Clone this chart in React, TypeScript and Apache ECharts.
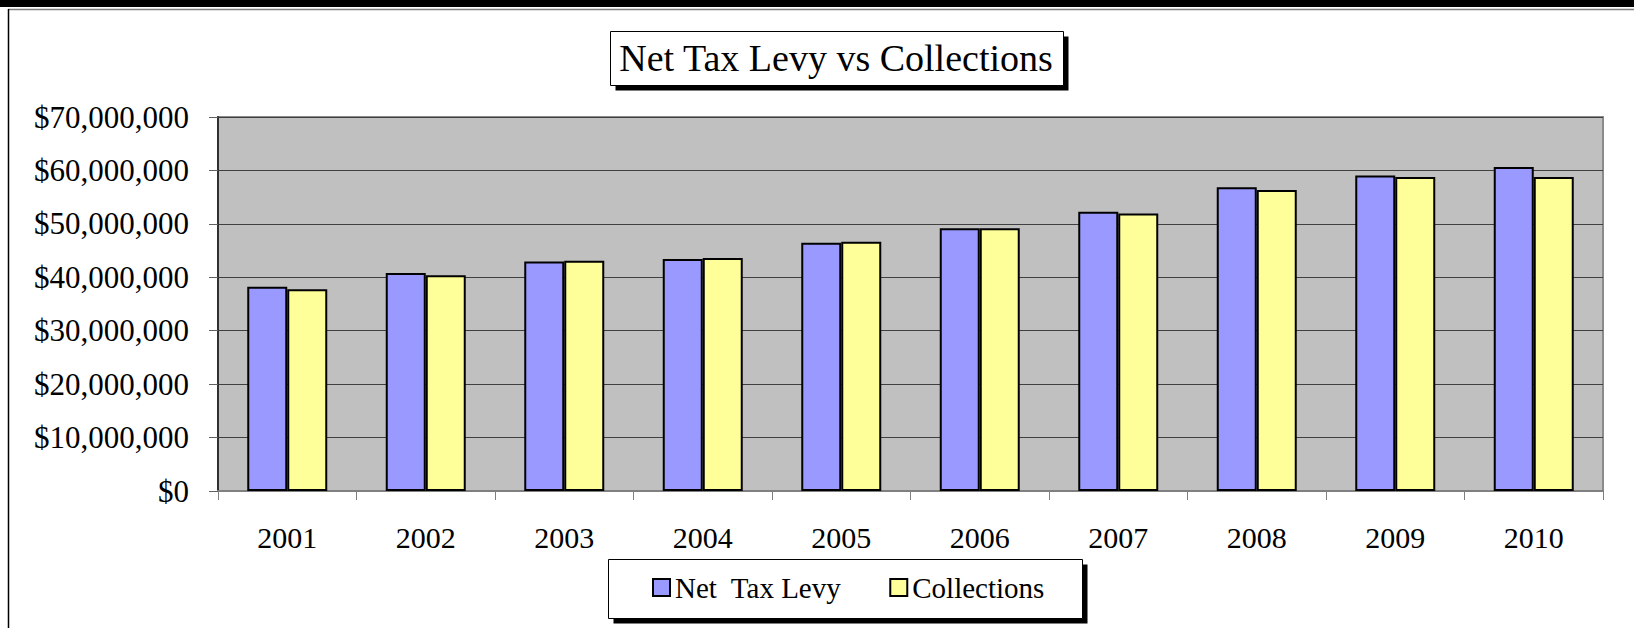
import React, { useEffect, useRef } from "react";
import * as echarts from "echarts";

const years = ["2001", "2002", "2003", "2004", "2005", "2006", "2007", "2008", "2009", "2010"];
const netTaxLevy = [38250000, 40800000, 42950000, 43400000, 46450000, 49200000, 52250000, 56850000, 59050000, 60650000];
const collections = [37750000, 40400000, 43100000, 43600000, 46650000, 49200000, 51950000, 56350000, 58750000, 58750000];
const seriesNames = ["Net  Tax Levy", "Collections"];
const titleText = "Net Tax Levy vs Collections";

const FONT = "'Liberation Serif', 'Times New Roman', serif";

export default function App() {
  const ref = useRef<HTMLDivElement>(null);
  useEffect(() => {
    document.body.style.margin = "0";
    if (!ref.current) return;
    const chart = echarts.init(ref.current, null, { renderer: "svg" });
    const fmt = (v: number) => "$" + Math.round(v).toString().replace(/\B(?=(\d{3})+(?!\d))/g, ",");
    chart.setOption({
      animation: false,
      backgroundColor: "#ffffff",
      title: {
        text: titleText,
        left: 836,
        top: 39,
        padding: 0,
        textAlign: "center",
        textStyle: { fontFamily: FONT, fontSize: 38, fontWeight: "normal", color: "#000" },
        z: 10,
      },
      legend: {
        left: 652,
        top: 573,
        padding: 0,
        itemWidth: 17,
        itemHeight: 17,
        itemGap: 48,
        icon: "rect",
        textStyle: { fontFamily: FONT, fontSize: 29, color: "#000" },
        data: seriesNames,
        z: 10,
      },
      grid: {
        left: 218,
        right: 31,
        top: 117,
        bottom: 137,
        show: true,
        backgroundColor: "#C0C0C0",
        borderColor: "#8a8a8a",
        borderWidth: 2,
      },
      xAxis: {
        type: "category",
        data: years,
        boundaryGap: true,
        axisLine: { show: true, lineStyle: { color: "#808080", width: 2 } },
        axisTick: { show: true, length: 9, interval: 0, lineStyle: { color: "#808080" } },
        axisLabel: { fontFamily: FONT, fontSize: 30, color: "#000", margin: 31, interval: 0 },
        splitLine: { show: false },
      },
      yAxis: {
        type: "value",
        min: 0,
        max: 70000000,
        interval: 10000000,
        axisLine: { show: true, lineStyle: { color: "#303030", width: 2 } },
        axisTick: { show: true, length: 9, lineStyle: { color: "#606060" } },
        axisLabel: { fontFamily: FONT, fontSize: 31, color: "#000", margin: 29, formatter: fmt },
        splitLine: { show: true, lineStyle: { color: "#404040", width: 1 } },
      },
      graphic: [
        { type: "rect", shape: { x: 0, y: 0, width: 1634, height: 7 }, style: { fill: "#000" }, silent: true },
        { type: "line", shape: { x1: 8, y1: 9.5, x2: 1634, y2: 9.5 }, style: { stroke: "#808080", lineWidth: 1.5 }, silent: true },
        { type: "line", shape: { x1: 8.5, y1: 9, x2: 8.5, y2: 628 }, style: { stroke: "#000", lineWidth: 1.5 }, silent: true },
        // title box
        { type: "rect", z: 1, shape: { x: 615.5, y: 36.5, width: 453, height: 54 }, style: { fill: "#000" }, silent: true },
        { type: "rect", z: 2, shape: { x: 610.5, y: 31.5, width: 453, height: 54 }, style: { fill: "#fff", stroke: "#000", lineWidth: 1 }, silent: true },
        // legend box
        { type: "rect", z: 1, shape: { x: 613.5, y: 564.5, width: 474, height: 59 }, style: { fill: "#000" }, silent: true },
        { type: "rect", z: 2, shape: { x: 608.5, y: 559.5, width: 474, height: 59 }, style: { fill: "#fff", stroke: "#000", lineWidth: 1 }, silent: true },
      ],
      series: [
        {
          name: seriesNames[0],
          type: "bar",
          data: netTaxLevy,
          barWidth: 40,
          barGap: "0%",
          itemStyle: { color: "#9999FF", borderColor: "#000", borderWidth: 2 },
        },
        {
          name: seriesNames[1],
          type: "bar",
          data: collections,
          barWidth: 40,
          barGap: "0%",
          itemStyle: { color: "#FFFF99", borderColor: "#000", borderWidth: 2 },
        },
      ],
    });
    return () => chart.dispose();
  }, []);
  return <div ref={ref} style={{ width: 1634, height: 628 }} />;
}
